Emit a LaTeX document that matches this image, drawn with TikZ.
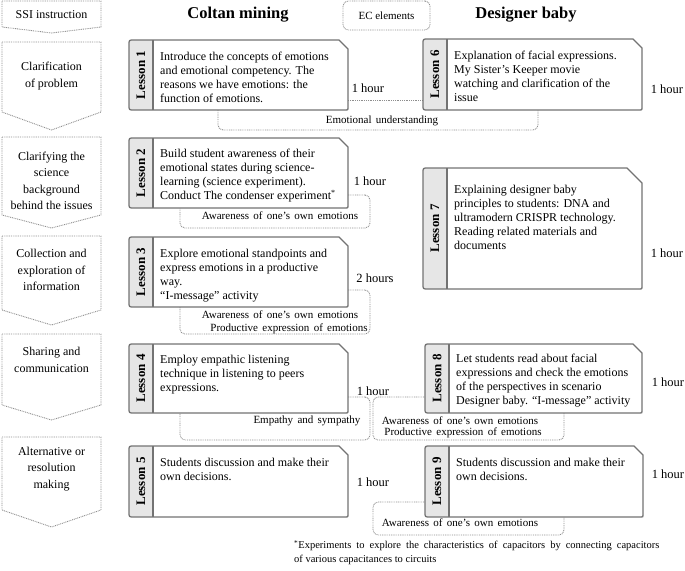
\documentclass[tikz,border=0pt]{standalone}
\usepackage{fontspec}
\setmainfont{Liberation Serif}
\usetikzlibrary{calc}
\definecolor{boxgray}{HTML}{737373}
\definecolor{stripgray}{HTML}{E6E6E6}
\definecolor{dotgray}{HTML}{8E8E8E}
\tikzset{
  boxline/.style={draw=boxgray, line width=1.3pt},
  emoline/.style={draw=dotgray, line width=0.9pt, dash pattern=on 0.9pt off 0.9pt},
  emobox/.style={emoline, rounded corners=5pt, inner sep=0pt},
  emotext/.style={font=\fontsize{11}{12}\selectfont, inner sep=0pt},
  lessonlabel/.style={rotate=90, font=\fontsize{13}{15}\selectfont\bfseries, inner sep=0pt},
  lessontext/.style={anchor=north west, align=left, inner sep=0pt, font=\fontsize{12}{14}\selectfont},
  stagetext/.style={align=center, inner sep=0pt, font=\fontsize{12}{16.5}\selectfont},
  hourtext/.style={inner sep=0pt, font=\fontsize{12.5}{14}\selectfont},
  header/.style={inner sep=0pt, font=\fontsize{16.5}{18}\selectfont\bfseries},
}
\newcommand\wsp{\spaceskip=4.3pt plus 1pt\relax}
\newcommand\lessonpath[5]{(#1+5,#2) -- (#3-#5,#2) -- (#3,#2+#5) -- (#3,#4-2) .. controls (#3,#4) .. (#3-2,#4) -- (#1+5,#4) .. controls (#1,#4) .. (#1,#4-5) -- (#1,#2+5) .. controls (#1,#2) .. (#1+5,#2) -- cycle}
\newcommand\lessonbox[9]{%
  \fill[white] \lessonpath{#2}{#3}{#4}{#5}{#6};
  \begin{scope}
    \clip (#2-3,#3-3) rectangle (#2+24,#5+3);
    \fill[stripgray] \lessonpath{#2}{#3}{#4}{#5}{#6};
  \end{scope}
  \draw[boxline] (#2+24,#3) -- (#2+24,#5);
  \draw[boxline, line join=round] \lessonpath{#2}{#3}{#4}{#5}{#6};
  \node[lessonlabel] (#1l) at ({#2+12},{(#3+#5)/2}) {#7};
  \node[lessontext] (#1t) at ({#2+31},{#3+#9}) {#8};
}
\newcommand\stagearrow[6]{%
  \draw[emoline] (2,#2) -- (101,#2) -- (101,#3) -- (51.5,#4) -- (2,#3) -- cycle;
  \node[stagetext] (#1) at (51.5,#5) {#6};
}
\begin{document}
\begin{tikzpicture}[x=1pt,y=-1pt]
\useasboundingbox (0,0) rectangle (685,570);
% stages
\stagearrow{s0}{1}{27}{33}{15}{SSI instruction}
\stagearrow{s1}{42}{112}{130}{76}{Clarification\\of problem}
\stagearrow{s2}{137}{215}{228}{181}{Clarifying the\\science\\background\\behind the issues}
\stagearrow{s3}{236}{310}{325}{270}{Collection and\\exploration of\\information}
\stagearrow{s4}{334}{405}{420}{360}{Sharing and\\communication}
\stagearrow{s5}{437}{510}{527}{469}{Alternative or\\resolution\\making}
% headers
\node[header] (h1) at (238,15) {Coltan mining};
\node[header] (h2) at (526,15) {Designer baby};
\node[emobox, minimum width=87pt, minimum height=29pt] (ec) at (386.5,15.5) {};
\node[inner sep=0pt, font=\fontsize{11}{13}\selectfont] (ect) at (386.5,15.5) {EC elements};
% emotion frames (behind boxes)
\node[emobox, minimum width=190pt, minimum height=33pt] (a2) at (275,211.5) {};
\node[emobox, minimum width=190pt, minimum height=44pt] (a3) at (275,312) {};
\node[emobox, minimum width=190pt, minimum height=43pt] (a4) at (275,418.5) {};
\node[emobox, minimum width=191pt, minimum height=43pt] (a8) at (468.5,418.5) {};
\node[emobox, minimum width=191pt, minimum height=33pt] (a9) at (468.5,518.5) {};
% L1-L6 connectors
\coordinate (c1a) at (348,100);
\coordinate (c1b) at (423,100);
\draw[emoline] (c1a) -- (c1b);
\coordinate (eu1) at (218,110);
\coordinate (eu2) at (538,110);
\coordinate (eu3) at (380,130);
\draw[emoline, rounded corners=5pt] (eu1) |- (eu3) -| (eu2);
% lessons
\lessonbox{L1}{129}{40}{348}{110}{9}{Lesson 1}{Introduce the concepts of emotions\\and emotional competency. The\\reasons we have emotions: the\\function of emotions.}{12}
\lessonbox{L6}{423}{39}{642}{110}{9}{Lesson 6}{Explanation of facial expressions.\\My Sister’s Keeper movie\\watching and clarification of the\\issue}{12}
\lessonbox{L2}{129}{138}{348}{208}{9}{Lesson 2}{Build student awareness of their\\emotional states during science-\\learning (science experiment).\\Conduct The condenser experiment\textsuperscript{*}}{11}
\lessonbox{L7}{423}{168}{642}{289}{15}{Lesson 7}{Explaining designer baby\\principles to students: DNA and\\ultramodern CRISPR technology.\\Reading related materials and\\documents}{17}
\lessonbox{L3}{129}{237}{348}{307}{9}{Lesson 3}{Explore emotional standpoints and\\express emotions in a productive\\way.\\“I-message” activity}{12}
\lessonbox{L4}{129}{344}{348}{413}{9}{Lesson 4}{Employ empathic listening\\technique in listening to peers\\expressions.}{11}
\lessonbox{L8}{425}{344}{642}{413}{9}{Lesson 8}{Let students read about facial\\expressions and check the emotions\\of the perspectives in scenario\\Designer baby. “I-message” activity}{10}
\lessonbox{L5}{129}{446}{348}{517}{9}{Lesson 5}{Students discussion and make their\\own decisions.}{12}
\lessonbox{L9}{425}{446}{643}{517}{9}{Lesson 9}{Students discussion and make their\\own decisions.}{12}
% EC texts
\node[emotext] (eut) at (382,121) {\wsp Emotional understanding};
\node[emotext] (a2t) at (280,216) {\wsp Awareness of one’s own emotions};
\node[emotext] (a3t1) at (280,315) {\wsp Awareness of one’s own emotions};
\node[emotext] (a3t2) at (289,329) {\wsp Productive expression of emotions};
\node[emotext] (a4t) at (307,421) {\wsp Empathy and sympathy};
\node[emotext] (a8t1) at (460,421) {\wsp Awareness of one’s own emotions};
\node[emotext] (a8t2) at (463,433) {\wsp Productive expression of emotions};
\node[emotext] (a9t) at (460,523) {\wsp Awareness of one’s own emotions};
% hours
\node[hourtext] (hr1) at (368,88) {1 hour};
\node[hourtext] (hr6) at (667,89) {1 hour};
\node[hourtext] (hr2) at (370,181) {1 hour};
\node[hourtext] (hr3) at (375,278) {2 hours};
\node[hourtext] (hr7) at (667,253) {1 hour};
\node[hourtext] (hr4) at (373,391) {1 hour};
\node[hourtext] (hr8) at (668,382) {1 hour};
\node[hourtext] (hr5) at (373,482) {1 hour};
\node[hourtext] (hr9) at (668,474) {1 hour};
% footnote
\node[anchor=north west, align=left, inner sep=0pt, font=\fontsize{10.5}{14}\selectfont] (fn) at (294,540) {\spaceskip=5pt plus 1pt\relax\textsuperscript{*}Experiments to explore the characteristics of capacitors by connecting capacitors\\of various capacitances to circuits};
\end{tikzpicture}
\end{document}
